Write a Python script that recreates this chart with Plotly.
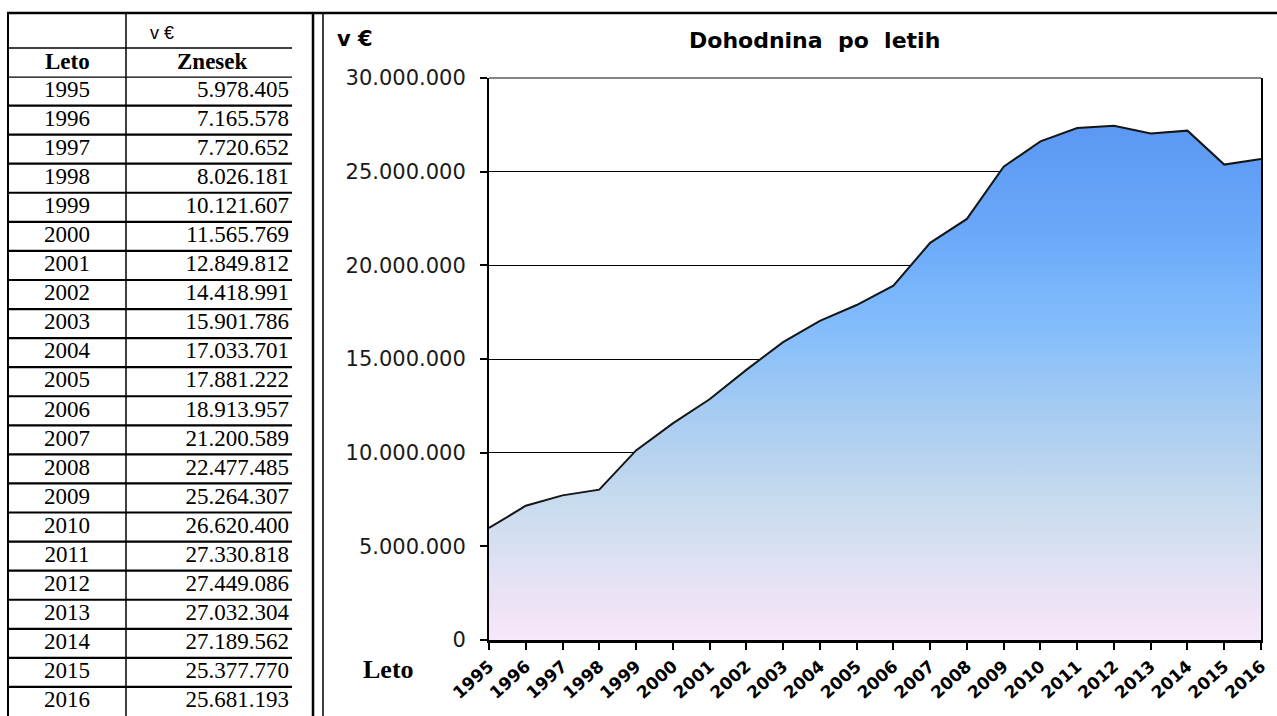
import plotly.graph_objects as go

# ---------------- data ----------------
YEARS = [1995, 1996, 1997, 1998, 1999, 2000, 2001, 2002, 2003, 2004, 2005,
         2006, 2007, 2008, 2009, 2010, 2011, 2012, 2013, 2014, 2015, 2016]
AMOUNTS = [5978405, 7165578, 7720652, 8026181, 10121607, 11565769, 12849812,
           14418991, 15901786, 17033701, 17881222, 18913957, 21200589,
           22477485, 25264307, 26620400, 27330818, 27449086, 27032304,
           27189562, 25377770, 25681193]
Y_TICKS = [0, 5000000, 10000000, 15000000, 20000000, 25000000, 30000000]
TITLE = "Dohodnina\u00a0\u00a0po\u00a0\u00a0letih"
UNIT = "v €"
COL_YEAR = "Leto"
COL_AMOUNT = "Znesek"

W, H = 1277, 716


def px(x):
    return x / W


def py(y):
    return 1 - y / H


def fmt(v):
    return f"{v:,}".replace(",", ".")


fig = go.Figure()

# ---------------- chart ----------------
fig.add_trace(go.Scatter(
    x=YEARS, y=AMOUNTS, mode="lines",
    line=dict(color="#151515", width=2),
    fill="tozeroy",
    fillgradient=dict(
        type="vertical", start=0, stop=27500000,
        colorscale=[
            [0.0, "#f6e9fa"], [0.055, "#efe3f6"], [0.12, "#e4e2f4"],
            [0.18, "#d8e0f2"], [0.27, "#c7dbee"], [0.35, "#b8d3ef"],
            [0.45, "#a5cbf2"], [0.55, "#8ec2f9"], [0.665, "#7ab7fc"],
            [0.79, "#6ba8f9"], [0.9, "#62a0f6"], [1.0, "#5a98f2"],
        ]),
    hoverinfo="skip", showlegend=False,
    xaxis="x", yaxis="y",
))

# ---------------- table (text through hidden axes) ----------------
n = len(YEARS)
fig.add_trace(go.Scatter(
    x=[59] * n, y=[i + 0.5 for i in range(n)],
    text=[str(y) for y in YEARS], mode="text",
    textposition="middle center",
    textfont=dict(family="Liberation Serif", size=23, color="#000"),
    hoverinfo="skip", showlegend=False, xaxis="x2", yaxis="y2",
))
fig.add_trace(go.Scatter(
    x=[281] * n, y=[i + 0.5 for i in range(n)],
    text=[fmt(v) for v in AMOUNTS], mode="text",
    textposition="middle left",
    textfont=dict(family="Liberation Serif", size=23, color="#000"),
    hoverinfo="skip", showlegend=False, xaxis="x2", yaxis="y2",
))

shapes = []
# row lines of table
for i in range(1, n):
    shapes.append(dict(type="line", xref="x2", yref="y2", x0=0, x1=284,
                       y0=i, y1=i, line=dict(color="#000", width=2.2)))
# header bottom line (thick)
shapes.append(dict(type="line", xref="x2", yref="y2", x0=0, x1=284,
                   y0=0, y1=0, line=dict(color="#000", width=2.5)))
# line between unit row and header row
shapes.append(dict(type="line", xref="paper", yref="paper", x0=px(8), x1=px(292),
                   y0=py(48), y1=py(48), line=dict(color="#000", width=1.5)))
# top frame line
shapes.append(dict(type="line", xref="paper", yref="paper", x0=px(7), x1=1,
                   y0=py(13), y1=py(13), line=dict(color="#000", width=2.5)))
# table left border and column separator
shapes.append(dict(type="line", xref="paper", yref="paper", x0=px(8), x1=px(8),
                   y0=py(12), y1=0, line=dict(color="#000", width=2)))
shapes.append(dict(type="line", xref="paper", yref="paper", x0=px(126), x1=px(126),
                   y0=py(13), y1=0, line=dict(color="#000", width=1.5)))
# double vertical divider
shapes.append(dict(type="line", xref="paper", yref="paper", x0=px(313), x1=px(313),
                   y0=py(13), y1=0, line=dict(color="#000", width=2.5)))
shapes.append(dict(type="line", xref="paper", yref="paper", x0=px(323), x1=px(323),
                   y0=py(13), y1=0, line=dict(color="#000", width=1.5)))
# chart top border (gray)
shapes.append(dict(type="line", xref="x domain", yref="y domain", x0=0, x1=1,
                   y0=1, y1=1, line=dict(color="#858585", width=2)))

annotations = [
    dict(text=UNIT, xref="paper", yref="paper", x=px(148), y=py(33),
         xanchor="left", yanchor="middle", showarrow=False,
         font=dict(family="Liberation Sans", size=18, color="#000")),
    dict(text="<b>%s</b>" % COL_YEAR, xref="paper", yref="paper", x=px(67), y=py(62),
         xanchor="center", yanchor="middle", showarrow=False,
         font=dict(family="Liberation Serif", size=23, color="#000")),
    dict(text="<b>%s</b>" % COL_AMOUNT, xref="paper", yref="paper", x=px(212), y=py(62),
         xanchor="center", yanchor="middle", showarrow=False,
         font=dict(family="Liberation Serif", size=23, color="#000")),
    dict(text="<b>%s</b>" % UNIT, xref="paper", yref="paper", x=px(335), y=py(39),
         xanchor="left", yanchor="middle", showarrow=False,
         font=dict(family="DejaVu Sans", size=21, color="#000")),
    dict(text="<b>%s</b>" % TITLE, xref="paper", yref="paper", x=px(814), y=py(41),
         xanchor="center", yanchor="middle", showarrow=False,
         font=dict(family="DejaVu Sans", size=22, color="#000")),
    dict(text="<b>%s</b>" % COL_YEAR, xref="paper", yref="paper", x=px(388), y=py(669),
         xanchor="center", yanchor="middle", showarrow=False,
         font=dict(family="Liberation Serif", size=26, color="#000")),
]

fig.update_layout(
    width=W, height=H,
    margin=dict(l=0, r=0, t=0, b=0, pad=0, autoexpand=False),
    paper_bgcolor="white", plot_bgcolor="white",
    separators=",.",
    showlegend=False,
    shapes=shapes,
    annotations=annotations,
    xaxis=dict(
        domain=[px(489), px(1261)], range=[YEARS[0], YEARS[-1]],
        tickvals=YEARS, ticktext=[str(y) for y in YEARS], tickangle=-42,
        ticks="outside", ticklen=7, tickwidth=1.5, tickcolor="#000",
        showline=True, linecolor="#000", linewidth=2.5,
        showgrid=False, zeroline=False,
        tickfont=dict(family="DejaVu Sans", size=17, weight="bold", color="#000"),
        anchor="y", fixedrange=True, automargin=False,
    ),
    yaxis=dict(
        domain=[py(640), py(78)], range=[0, 30000000],
        tickvals=Y_TICKS, tickformat=",d",
        ticks="outside", ticklen=7, tickwidth=1.5, tickcolor="#000",
        showline=True, linecolor="#000", linewidth=2, mirror=True,
        showgrid=True, gridcolor="#000", gridwidth=1, zeroline=False,
        tickfont=dict(family="DejaVu Sans", size=21, color="#1a1a1a"),
        ticklabelstandoff=10,
        anchor="x", fixedrange=True, automargin=False,
    ),
    xaxis2=dict(domain=[px(8), px(292)], range=[0, 284], visible=False,
                anchor="y2", fixedrange=True),
    yaxis2=dict(domain=[0, py(76.5)], range=[22.0, 0], visible=False,
                anchor="x2", fixedrange=True),
)

fig.write_html("out.html", include_plotlyjs=True, full_html=True,
               config={"displayModeBar": False},
               post_script="document.body.style.margin='0';document.body.style.overflow='hidden';")
